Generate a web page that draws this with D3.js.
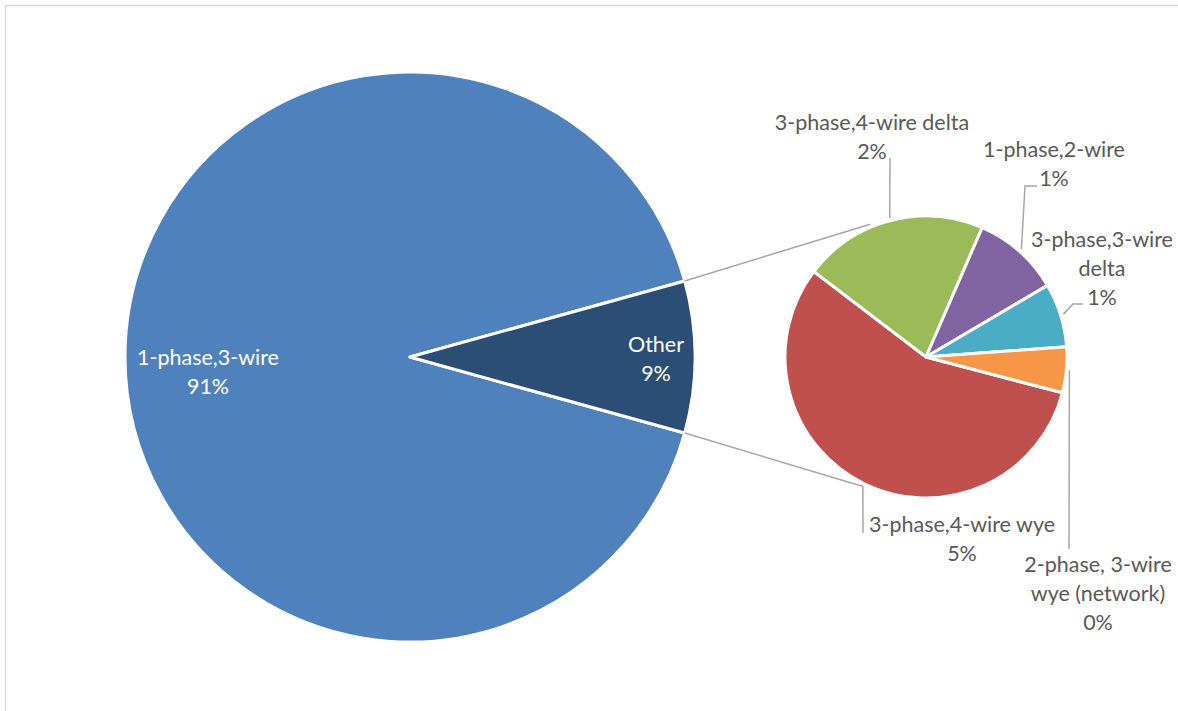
<!DOCTYPE html>
<html>
<head>
<meta charset="utf-8">
<script src="https://cdn.jsdelivr.net/npm/d3@7"></script>
<style>
  html, body { margin: 0; padding: 0; background: #fff; }
  svg { display: block; }
  text { font-family: Lato, "Open Sans", sans-serif; font-size: 21.5px; }
</style>
</head>
<body>
<svg id="chart" width="1178" height="711"></svg>
<script>
// Service type shares (percent of installations)
const mainCategories = ["1-phase,3-wire", "Other"];
const mainShare = 91.4;

// Breakdown of the "Other" group
const otherCategories = [
  "3-phase,4-wire wye",
  "3-phase,4-wire delta",
  "1-phase,2-wire",
  "3-phase,3-wire delta",
  "2-phase, 3-wire wye (network)"
];
const otherValues = [4.84, 1.82, 0.86, 0.63, 0.45];

const mainColors = ["#4F81BD", "#2C4D75"];
const otherColors = ["#C0504D", "#9BBB59", "#8064A2", "#4BACC6", "#F79646"];

const deg = Math.PI / 180;
const fmt = v => Math.round(v) + "%";

// Layout
const mainCenter = [410, 357], mainR = 285;
const secCenter = [926, 357], secR = 141;
const secStart = 104.7 * deg;              // where the first secondary slice begins
const connectorAngles = [-22.8 * deg, 205.9 * deg]; // join points on the secondary pie

const mainLabelPos = [
  { x: 208, y: 365 },
  { x: 656, y: 352 }
];
const secLabelPos = [
  { x: 962,  y: 532, maxW: 220, leader: [[863, 533]] },
  { x: 872,  y: 130, maxW: 230, leader: [[890, 158]] },
  { x: 1054, y: 157, maxW: 170, leader: [[1025, 186], [1037, 186]] },
  { x: 1102, y: 247, maxW: 155, leader: [[1073, 304], [1083, 304]] },
  { x: 1098, y: 572, maxW: 160, leader: [[1069, 549]] }
];
const lineH = 28.8;

const svg = d3.select("#chart");

// chart frame
svg.append("rect")
  .attr("x", 5.5).attr("y", 5.5)
  .attr("width", 1190).attr("height", 720)
  .attr("fill", "none").attr("stroke", "#D9D9D9").attr("stroke-width", 1.5);

const otherTotal = d3.sum(otherValues);
const mainValues = [mainShare, otherTotal];

// Main pie: "Other" slice centred on the right-hand side
const otherSpan = otherTotal / d3.sum(mainValues) * 2 * Math.PI;
const mainPie = d3.pie().sort(null)
  .startAngle(Math.PI / 2 + otherSpan / 2)
  .endAngle(Math.PI / 2 + otherSpan / 2 + 2 * Math.PI);
const mainArcs = mainPie(mainValues);
const mainArc = d3.arc().innerRadius(0).outerRadius(mainR);

const gMain = svg.append("g").attr("transform", `translate(${mainCenter})`);
gMain.selectAll("path").data(mainArcs).join("path")
  .attr("d", mainArc)
  .attr("fill", (d, i) => mainColors[i])
  .attr("stroke", "#fff").attr("stroke-width", 3).attr("stroke-linejoin", "round");

// Secondary pie
const secPie = d3.pie().sort(null).startAngle(secStart).endAngle(secStart + 2 * Math.PI);
const secArcs = secPie(otherValues);
const secArc = d3.arc().innerRadius(0).outerRadius(secR);

const gSec = svg.append("g").attr("transform", `translate(${secCenter})`);
gSec.selectAll("path").data(secArcs).join("path")
  .attr("d", secArc)
  .attr("fill", (d, i) => otherColors[i])
  .attr("stroke", "#fff").attr("stroke-width", 3).attr("stroke-linejoin", "round");

// polar helper (d3 angle convention: 0 = up, clockwise)
const polar = (c, r, a) => [c[0] + r * Math.sin(a), c[1] - r * Math.cos(a)];

// Connector lines from the "Other" slice edges (upper, lower) to the secondary pie
const otherArc = mainArcs[1];
const edgeAngles = [otherArc.startAngle, otherArc.endAngle];
const line = d3.line();
edgeAngles.forEach((a, i) => {
  const p0 = polar(mainCenter, mainR, a);
  const p1 = polar(secCenter, secR + 3, connectorAngles[i]);
  svg.append("path").attr("d", line([p0, p1]))
    .attr("fill", "none").attr("stroke", "#A6A6A6").attr("stroke-width", 1.5);
});

// Main pie labels
mainArcs.forEach((d, i) => {
  const t = svg.append("text")
    .attr("x", mainLabelPos[i].x).attr("y", mainLabelPos[i].y)
    .attr("text-anchor", "middle").attr("fill", "#fff");
  t.append("tspan").attr("x", mainLabelPos[i].x).text(mainCategories[i]);
  t.append("tspan").attr("x", mainLabelPos[i].x).attr("dy", lineH).text(fmt(d.data));
});

// Secondary labels with leader lines
secArcs.forEach((d, i) => {
  const pos = secLabelPos[i];
  const mid = (d.startAngle + d.endAngle) / 2;
  const p0 = polar(secCenter, secR + 3, mid);
  svg.append("path").attr("d", line([p0, ...pos.leader]))
    .attr("fill", "none").attr("stroke", "#A6A6A6").attr("stroke-width", 1.5);

  const t = svg.append("text")
    .attr("x", pos.x).attr("y", pos.y)
    .attr("text-anchor", "middle").attr("fill", "#595959");

  // greedy word wrap within the label width
  const words = otherCategories[i].split(" ");
  const lines = [];
  let cur = "";
  const probe = t.append("tspan");
  words.forEach(w => {
    const trial = cur ? cur + " " + w : w;
    probe.text(trial);
    if (cur && probe.node().getComputedTextLength() > pos.maxW) {
      lines.push(cur); cur = w;
    } else cur = trial;
  });
  lines.push(cur);
  probe.remove();
  lines.push(fmt(d.data));
  lines.forEach((s, k) => {
    t.append("tspan").attr("x", pos.x).attr("dy", k ? lineH : 0).text(s);
  });
});
</script>
</body>
</html>
